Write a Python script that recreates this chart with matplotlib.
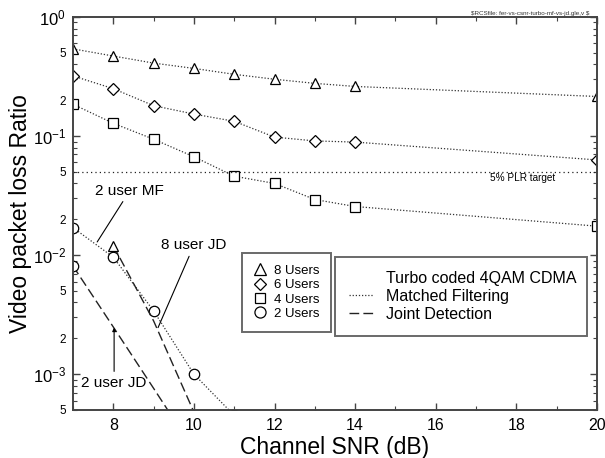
import numpy as np
import matplotlib
matplotlib.use("Agg")
import matplotlib.pyplot as plt
from matplotlib.lines import Line2D
from matplotlib.ticker import FixedLocator, FuncFormatter

plt.rcParams['font.family'] = ['Liberation Sans', 'DejaVu Sans']
plt.rcParams['mathtext.fontset'] = 'custom'
plt.rcParams['mathtext.rm'] = 'Liberation Sans'
plt.rcParams['mathtext.it'] = 'Liberation Sans:italic'

# Channel SNR (dB)
snr = [7, 8, 9, 10, 11, 12, 13, 14, 20]

# matched filtering packet loss ratios
mf_8users = [0.54, 0.47, 0.41, 0.37, 0.33, 0.30, 0.277, 0.261, 0.215]
mf_6users = [0.32, 0.25, 0.18, 0.153, 0.133, 0.098, 0.091, 0.089, 0.063]
mf_4users = [0.185, 0.128, 0.094, 0.067, 0.046, 0.040, 0.0293, 0.0256, 0.0175]
snr_mf2 = [7, 8, 9, 10, 11]
mf_2users = [0.017, 0.0096, 0.0034, 0.001, 0.00045]

# joint detection
snr_jd8 = [8, 9, 10]
jd_8users = [0.012, 0.0028, 0.00048]
snr_jd2 = [7, 8, 9, 10]
jd_2users = [0.0081, 0.00249, 0.00076, 0.00023]

plr_target = 0.05

fig = plt.figure(figsize=(6.05, 4.58), dpi=100)
ax = fig.add_axes([73 / 605, 1 - 410 / 458, 524 / 605, 393 / 458])

mf_style = dict(color='#333333', lw=0.9, ls=(0, (1, 1.5)))
jd_style = dict(color='#222222', lw=1.0, ls=(0, (7, 3)))
mk = dict(mfc='white', mec='black', mew=0.9)

ax.plot(snr, mf_8users, marker='^', ms=7.5, **mf_style, **mk)
ax.plot(snr, mf_6users, marker='D', ms=6.2, **mf_style, **mk)
ax.plot(snr, mf_4users, marker='s', ms=7.2, **mf_style, **mk)
ax.plot(snr_mf2, mf_2users, marker='o', ms=7.5, **mf_style, **mk)
ax.plot(snr_jd8, jd_8users, marker='^', ms=7.5, markevery=[0], **jd_style, **mk)
ax.plot(snr_jd2, jd_2users, marker='o', ms=7.5, markevery=[0], **jd_style, **mk)

ax.axhline(plr_target, color='#222222', lw=0.9, ls=(0, (1, 2.5)))
ax.text(18.15, 0.0447, '5% PLR target', fontsize=7.2, ha='center', va='center')

ax.set_yscale('log')
ax.set_xlim(7, 20)
ax.set_ylim(5e-4, 1)

# ticks
ax.set_xticks(range(8, 21, 2))
ax.set_xticks(range(7, 21), minor=True)
ax.yaxis.set_major_locator(FixedLocator([1e-3, 1e-2, 1e-1, 1]))
minors = [m * 10.0 ** e for e in range(-4, 0) for m in range(2, 10)]
minors = [v for v in minors if v >= 5e-4 - 1e-9]
ax.yaxis.set_minor_locator(FixedLocator(minors))
ax.yaxis.set_major_formatter(FuncFormatter(lambda v, p: r'$10^{%d}$' % round(np.log10(v))))


def minor_fmt(v, p):
    m = v / 10.0 ** np.floor(np.log10(v) + 1e-9)
    if abs(m - 2) < 0.01:
        return '2'
    if abs(m - 5) < 0.01:
        return '5'
    return ''


ax.yaxis.set_minor_formatter(FuncFormatter(minor_fmt))

spine_c = '#444444'
for s in ax.spines.values():
    s.set_color(spine_c)
    s.set_linewidth(1.4)
ax.tick_params(which='both', direction='in', top=True, right=True, color=spine_c)
ax.tick_params(which='major', length=5, width=1.0)
ax.tick_params(which='minor', length=3, width=0.8)
ax.tick_params(axis='x', which='major', labelsize=11.5, pad=6)
ax.tick_params(axis='y', which='major', labelsize=12, pad=5)
ax.tick_params(axis='y', which='minor', labelsize=8.5, pad=5)

ax.set_xlabel('Channel SNR (dB)', fontsize=16.5, labelpad=2)
ax.set_ylabel('Video packet loss Ratio', fontsize=16.5)
ax.yaxis.set_label_coords(-0.078, 0.5)

# annotations
ann = dict(fontsize=11, ha='center', va='center')
ax.annotate('2 user MF', xy=(7.6, 0.0129), xytext=(8.41, 0.0348),
            arrowprops=dict(arrowstyle='-', color='black', lw=0.8, shrinkA=1, shrinkB=0), **ann)
ax.annotate('8 user JD', xy=(9.11, 0.00246), xytext=(10.0, 0.0121),
            arrowprops=dict(arrowstyle='-', color='black', lw=0.8, shrinkA=1, shrinkB=0), **ann)
ax.annotate('2 user JD', xy=(8.02, 0.00246), xytext=(8.02, 0.00085),
            arrowprops=dict(arrowstyle='-|>', color='black', lw=0.8, mutation_scale=5,
                            shrinkA=1, shrinkB=0), **ann)

# legends
user_handles = [
    Line2D([], [], ls='none', marker='^', ms=8, **mk),
    Line2D([], [], ls='none', marker='D', ms=6.5, **mk),
    Line2D([], [], ls='none', marker='s', ms=7.5, **mk),
    Line2D([], [], ls='none', marker='o', ms=8, **mk),
]
user_labels = ['8 Users', '6 Users', '4 Users', '2 Users']
leg1 = ax.legend(user_handles, user_labels, loc='upper left',
                 bbox_to_anchor=(0.3225, 0.3995), fontsize=9.5, frameon=True,
                 fancybox=False, handlelength=1.0, handletextpad=0.5,
                 labelspacing=0.15, borderpad=0.9, borderaxespad=0)
leg1.get_frame().set_edgecolor(spine_c)
leg1.get_frame().set_linewidth(1.4)
ax.add_artist(leg1)

det_handles = [
    Line2D([], [], ls='none'),
    Line2D([], [], color='#333333', lw=0.9, ls=(0, (1, 1.5))),
    Line2D([], [], color='#222222', lw=1.0, ls=(0, (7, 3))),
]
det_labels = ['Turbo coded 4QAM CDMA', 'Matched Filtering', 'Joint Detection']
leg2 = ax.legend(det_handles, det_labels, loc='upper left',
                 bbox_to_anchor=(0.5, 0.389, 0.481, 0.0), mode='expand',
                 fontsize=11.5, frameon=True, fancybox=False, handlelength=1.6,
                 handletextpad=0.75, labelspacing=0.2, borderpad=0.85, borderaxespad=0)
leg2.get_frame().set_edgecolor(spine_c)
leg2.get_frame().set_linewidth(1.4)

fig.text(589 / 605, 1 - 14 / 458, r'\$RCSfile: fer-vs-csnr-turbo-mf-vs-jd.gle,v \$',
         fontsize=4.5, ha='right', va='center', color='#333333')

fig.savefig('out.png', dpi=100)
